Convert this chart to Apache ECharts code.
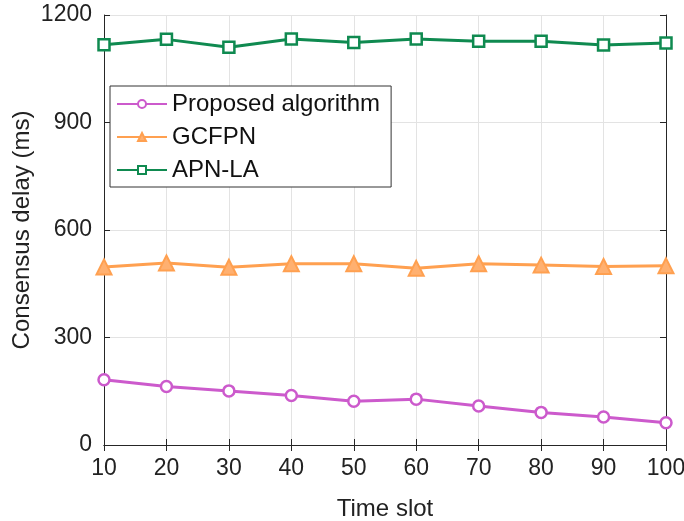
<!DOCTYPE html>
<html><head><meta charset="utf-8">
<script src="https://cdn.jsdelivr.net/npm/echarts@6/dist/echarts.min.js"></script>
<style>html,body{margin:0;padding:0;background:#fff}#c{width:684px;height:521px}</style>
</head><body><div id="c"></div>
<script>
const timeSlots = [10, 20, 30, 40, 50, 60, 70, 80, 90, 100];
const proposed = [182, 163, 151, 138, 122, 128, 109, 91, 78, 62];
const gcfpn = [497, 508, 496, 506, 506, 493, 506, 502, 498, 500];
const apnla = [1117, 1132, 1110, 1133, 1123, 1133, 1127, 1127, 1116, 1122];
const seriesNames = ['Proposed algorithm', 'GCFPN', 'APN-LA'];
const xName = 'Time slot';
const yName = 'Consensus delay (ms)';

const font = 'Liberation Sans, Arial, sans-serif';
const pair = arr => timeSlots.map((t, i) => [t, arr[i]]);
const chart = echarts.init(document.getElementById('c'));
const axisLine = {show: true, lineStyle: {color: '#262626', width: 1}};
chart.setOption({
  animation: false,
  grid: {left: 104, right: 18, top: 15, bottom: 76, containLabel: false, outerBoundsMode: 'none'},
  legend: {
    left: 110, top: 86, orient: 'vertical',
    itemWidth: 50, itemHeight: 10, itemGap: 9,
    padding: [6, 11, 5, 6],
    borderColor: '#333', borderWidth: 1, backgroundColor: '#fff',
    textStyle: {fontFamily: font, fontSize: 24, color: '#111'},
    data: seriesNames
  },
  xAxis: [{
    type: 'value', min: 10, max: 100, interval: 10,
    name: xName, nameLocation: 'middle', nameGap: 52, nameMoveOverlap: false,
    nameTextStyle: {fontFamily: font, fontSize: 24, color: '#222'},
    axisLine: axisLine,
    axisTick: {show: true, inside: true, length: 6, lineStyle: {color: '#262626'}},
    axisLabel: {fontFamily: font, fontSize: 23, color: '#222', margin: 12},
    splitLine: {show: true, lineStyle: {color: '#e3e3e3', width: 1}}
  }, {
    type: 'value', position: 'top', min: 10, max: 100, interval: 10,
    axisLine: axisLine,
    axisTick: {show: true, inside: true, length: 6, lineStyle: {color: '#262626'}},
    axisLabel: {show: false}, splitLine: {show: false}
  }],
  yAxis: [{
    type: 'value', min: 0, max: 1200, interval: 300,
    name: yName, nameLocation: 'middle', nameGap: 70, nameMoveOverlap: false,
    nameTextStyle: {fontFamily: font, fontSize: 24, color: '#222'},
    axisLine: axisLine,
    axisTick: {show: true, inside: true, length: 6, lineStyle: {color: '#262626'}},
    axisLabel: {fontFamily: font, fontSize: 23, color: '#222', margin: 12, formatter: v => String(v)},
    splitLine: {show: true, lineStyle: {color: '#e3e3e3', width: 1}}
  }, {
    type: 'value', position: 'right', min: 0, max: 1200, interval: 300,
    axisLine: axisLine,
    axisTick: {show: true, inside: true, length: 6, lineStyle: {color: '#262626'}},
    axisLabel: {show: false}, splitLine: {show: false}
  }],
  series: [{
    name: seriesNames[0], type: 'line', data: pair(proposed),
    symbol: 'circle', symbolSize: 11, showAllSymbol: true,
    lineStyle: {color: '#cc5acc', width: 3},
    itemStyle: {color: '#fff', borderColor: '#cc5acc', borderWidth: 2.5}
  }, {
    name: seriesNames[1], type: 'line', data: pair(gcfpn),
    symbol: 'triangle', symbolSize: 15, showAllSymbol: true,
    lineStyle: {color: '#ffa050', width: 3},
    itemStyle: {color: '#ffb070', borderColor: '#ffa050', borderWidth: 2}
  }, {
    name: seriesNames[2], type: 'line', data: pair(apnla),
    symbol: 'rect', symbolSize: 11, showAllSymbol: true,
    lineStyle: {color: '#0f8a50', width: 3},
    itemStyle: {color: '#fff', borderColor: '#0f8a50', borderWidth: 2.5}
  }]
});
</script></body></html>
